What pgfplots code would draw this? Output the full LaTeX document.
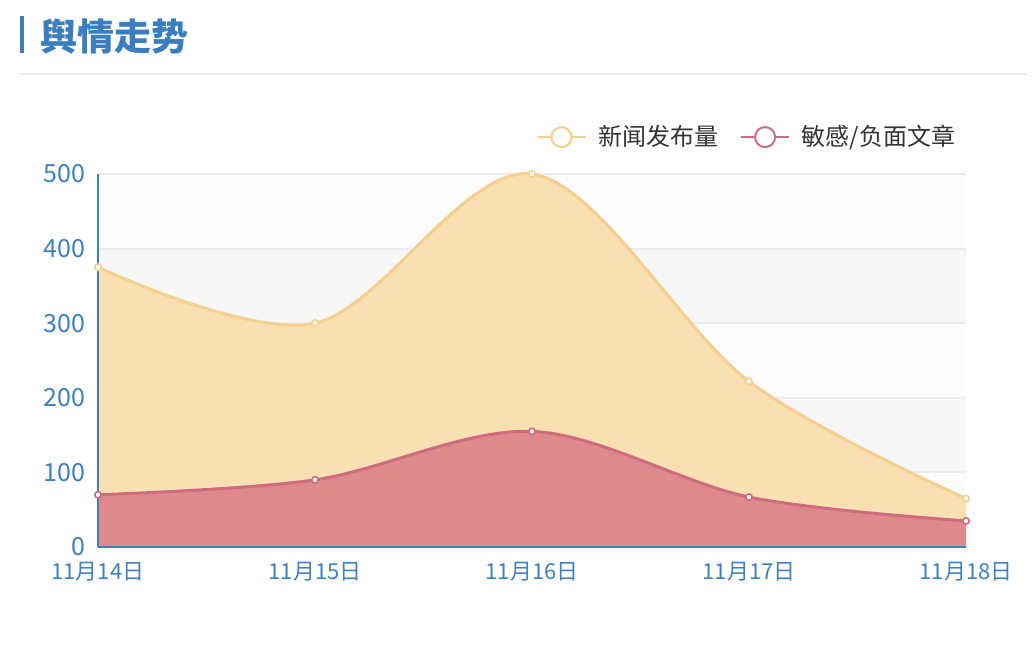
\documentclass[border=0pt]{standalone}
\usepackage{fontspec}
\setmainfont{Noto Sans CJK SC}
\usepackage{pgfplots}
\usepackage{pgfplotstable}
\pgfplotsset{compat=1.18}

\definecolor{titleblue}{HTML}{3B7EC0}
\definecolor{axisblue}{HTML}{3E80C0}
\definecolor{gridgray}{HTML}{ECECEC}
\definecolor{bandgray}{HTML}{F7F7F7}
\definecolor{bandlight}{HTML}{FCFCFC}
\definecolor{newsline}{HTML}{F5CF8E}
\definecolor{newsfill}{HTML}{F8E0B2}
\definecolor{negline}{HTML}{D06A7E}
\definecolor{negfill}{HTML}{DE8A8D}
\definecolor{legendtext}{HTML}{333333}

\pgfplotstableread{
x y
0 375
1 300
2 500
3 222
4 65
}\newsdata
\pgfplotstableread{
x y
0 70
1 90
2 155
3 67
4 35
}\negdata

\begin{document}
\begin{tikzpicture}
% page is 1034x654 px at 0.5pt per px; axis box starts at (98px,547px)
\path[use as bounding box] (-49pt,-53.5pt) rectangle (468pt,273.5pt);

\begin{axis}[
    at={(0,0)}, anchor=south west,
    scale only axis,
    width=434pt, height=186.5pt,
    xmin=0, xmax=4, ymin=0, ymax=500,
    xtick={0,1,2,3,4},
    xticklabels={11月14日,11月15日,11月16日,11月17日,11月18日},
    ytick={0,100,200,300,400,500},
    major tick length=0pt,
    axis x line*=bottom, axis y line*=left,
    axis line style={axisblue, line width=1pt, -},
    ticklabel style={text=axisblue},
    xticklabel style={yshift=-4pt, font=\fontsize{11}{11}\selectfont},
    yticklabel style={xshift=-3pt, font=\fontsize{12.5}{12.5}\selectfont},
    /pgf/number format/assume math mode=true,
    clip=false,
    legend style={at={(1.002,1.099)}, anchor=east, draw=none, fill=none,
        inner sep=0pt, text=legendtext, font=\fontsize{12}{12}\selectfont,
        nodes={inner xsep=6pt},
        /tikz/every even column/.append style={column sep=5pt}},
    legend columns=2,
    legend cell align=left,
    legend image code/.code={
        \draw[#1, line width=0.8pt] (0pt,0pt) -- (24pt,0pt);
        \draw[#1, line width=1pt, fill=white] (12pt,0pt) circle (5pt);
    },
]
% background bands and grid lines
\fill[bandlight] (axis cs:0,0) rectangle (axis cs:4,100);
\fill[bandgray] (axis cs:0,100) rectangle (axis cs:4,200);
\fill[bandlight] (axis cs:0,200) rectangle (axis cs:4,300);
\fill[bandgray] (axis cs:0,300) rectangle (axis cs:4,400);
\fill[bandlight] (axis cs:0,400) rectangle (axis cs:4,500);
\foreach \g in {100,200,300,400,500} {
    \edef\tmp{\noexpand\draw[gridgray, line width=1pt] (axis cs:0,\g) -- (axis cs:4,\g);}
    \tmp
}

\addlegendimage{draw=newsline}
\addlegendentry{新闻发布量}
\addlegendimage{draw=negline}
\addlegendentry{敏感/负面文章}

% 新闻发布量
\addplot[forget plot, smooth, tension=0.55, draw=none, fill=newsfill]
    table {\newsdata} \closedcycle;
\addplot[forget plot, smooth, tension=0.55, draw=newsline, line width=1.5pt,
    mark=*, mark size=1.6pt,
    mark options={fill=white, draw=newsline, line width=0.8pt}]
    table {\newsdata};

% 敏感/负面文章
\addplot[forget plot, smooth, tension=0.55, draw=none, fill=negfill]
    table {\negdata} \closedcycle;
\addplot[forget plot, smooth, tension=0.55, draw=negline, line width=1.5pt,
    mark=*, mark size=1.6pt,
    mark options={fill=white, draw=negline, line width=0.8pt}]
    table {\negdata};

\draw[axisblue, line width=1pt] (axis cs:0,0) -- (axis cs:4,0);
\draw[axisblue, line width=1pt] (axis cs:0,0) -- (axis cs:0,500);
\end{axis}

% title block
\draw[titleblue, line width=1.8pt] (-38pt,265.5pt) -- (-38pt,247pt);
\node[anchor=west, inner sep=0pt, text=titleblue,
      font=\bfseries\fontsize{18.5}{18.5}\selectfont] at (-29pt,255pt) {舆情走势};
\draw[gridgray, line width=1pt] (-39.5pt,236.5pt) -- (464.5pt,236.5pt);
\end{tikzpicture}
\end{document}
